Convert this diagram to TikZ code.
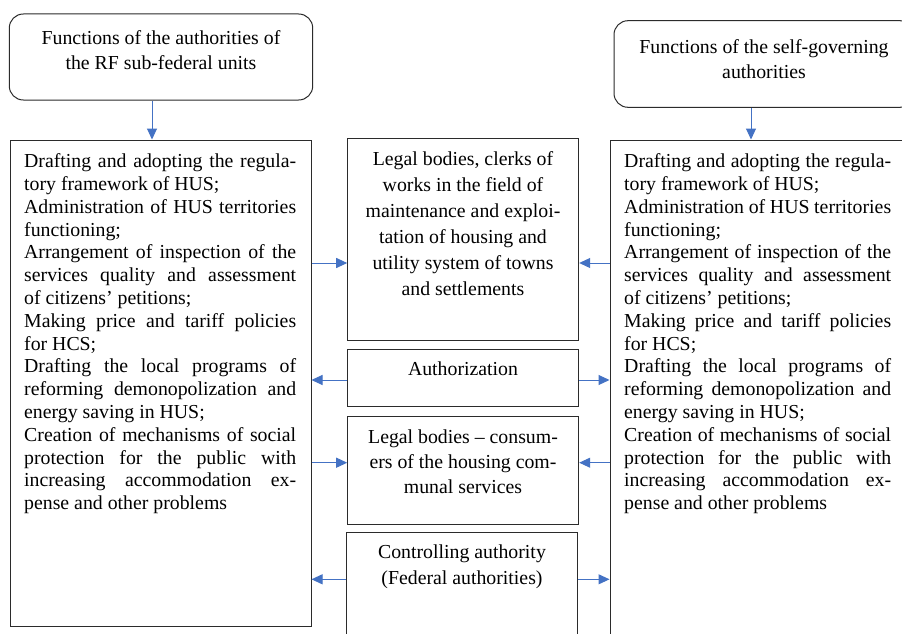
\documentclass[tikz,border=0pt]{standalone}
\usepackage{fontspec}
\setmainfont{Liberation Serif}
\usetikzlibrary{arrows.meta}
\setlength{\parindent}{0pt}
\definecolor{arrowblue}{HTML}{4472C4}
\definecolor{boxline}{HTML}{2B2B2B}
\begin{document}
\begin{tikzpicture}[x=1pt,y=-1pt,
  box/.style={draw=boxline, line width=1pt, inner sep=0pt},
  rbox/.style={box, rounded corners=14pt},
  arr/.style={draw=arrowblue, line width=1pt, -{Triangle[length=11pt,width=10pt]}},
  bigtxt/.style={inner sep=0pt, anchor=north west, align=justify, font=\fontsize{19.8}{22.8}\selectfont},
  midtxt/.style={inner sep=0pt, anchor=north, align=center, font=\fontsize{19.8}{26}\selectfont},
  toptxt/.style={inner sep=0pt, anchor=north, align=center, font=\fontsize{19.8}{25}\selectfont}]
\path[use as bounding box, clip] (0,0) rectangle (902,634);
\fill[white] (0,0) rectangle (902,634);

% boxes
\node[rbox, minimum width=303.4pt, minimum height=86pt] (TL) at (161,57) {};
\node[rbox, minimum width=300pt, minimum height=86.6pt] (TR) at (764,64) {};
\node[box, minimum width=301pt, minimum height=486pt] (L) at (160.5,383) {};
\node[box, minimum width=302pt, minimum height=520pt] (R) at (761,400) {};
\node[box, minimum width=231pt, minimum height=201.7pt] (M1) at (463.2,239.2) {};
\node[box, minimum width=231pt, minimum height=57pt] (M2) at (463.2,377.5) {};
\node[box, minimum width=231pt, minimum height=108.3pt] (M3) at (463.2,470.2) {};
\node[box, minimum width=231.3pt, minimum height=127.7pt] (M4) at (461.7,596.2) {};

% texts
\node[toptxt] (TLt) at (161,30.5) {Functions of the authorities of\\the RF sub-federal units};
\node[toptxt] (TRt) at (764,39) {Functions of the self-governing\\authorities};

\node[bigtxt, text width=272pt] (Lt) at (24,153.5) {Drafting and adopting the regula-\linebreak tory framework of HUS;\\
Administration of HUS territories\linebreak functioning;\\
Arrangement of inspection of the\linebreak services quality and assessment\linebreak of citizens’ petitions;\\
Making price and tariff policies\linebreak for HCS;\\
Drafting the local programs of\linebreak reforming demonopolization and\linebreak energy saving in HUS;\\
Creation of mechanisms of social\linebreak protection for the public with\linebreak increasing accommodation ex-\linebreak pense and other problems};

\node[bigtxt, text width=267pt] (Rt) at (624,153.5) {Drafting and adopting the regula-\linebreak tory framework of HUS;\\
Administration of HUS territories\linebreak functioning;\\
Arrangement of inspection of the\linebreak services quality and assessment\linebreak of citizens’ petitions;\\
Making price and tariff policies\linebreak for HCS;\\
Drafting the local programs of\linebreak reforming demonopolization and\linebreak energy saving in HUS;\\
Creation of mechanisms of social\linebreak protection for the public with\linebreak increasing accommodation ex-\linebreak pense and other problems};

\node[midtxt] (M1t) at (463,151) {Legal bodies, clerks of\\works in the field of\\maintenance and exploi-\\tation of housing and\\utility system of towns\\and settlements};
\node[midtxt] (M2t) at (463,361.5) {Authorization};
\node[midtxt, font=\fontsize{19.8}{25}\selectfont] (M3t) at (463,429.5) {Legal bodies – consum-\\ers of the housing com-\\munal services};
\node[midtxt] (M4t) at (462,544.5) {Controlling authority\\(Federal authorities)};

% arrow coordinates
\coordinate (ax1) at (152,0);
\coordinate (ax2) at (751,0);
\coordinate (y1) at (0,263);
\coordinate (y2) at (0,380);
\coordinate (y3) at (0,462.7);
\coordinate (y4) at (0,579.3);

\draw[arr] (TL.south -| ax1) -- (L.north -| ax1);
\draw[arr] (TR.south -| ax2) -- (R.north -| ax2);

\draw[arr] (L.east |- y1) -- (M1.west |- y1);
\draw[arr] (R.west |- y1) -- (M1.east |- y1);
\draw[arr] (M2.west |- y2) -- (L.east |- y2);
\draw[arr] (M2.east |- y2) -- (R.west |- y2);
\draw[arr] (L.east |- y3) -- (M3.west |- y3);
\draw[arr] (R.west |- y3) -- (M3.east |- y3);
\draw[arr] (M4.west |- y4) -- (L.east |- y4);
\draw[arr] (M4.east |- y4) -- (R.west |- y4);
\end{tikzpicture}
\end{document}
